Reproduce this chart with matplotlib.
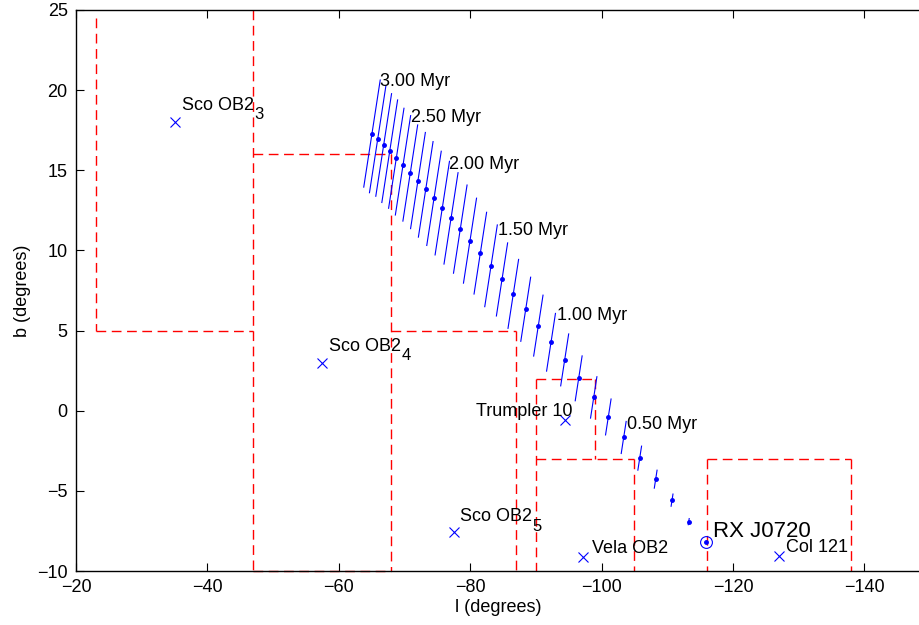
import numpy as np
import matplotlib.pyplot as plt

plt.rcParams['font.family'] = ['Liberation Sans', 'DejaVu Sans']
plt.rcParams['font.size'] = 13

# trajectory of RX J0720 back in time (0.1 Myr steps, 3.0 Myr -> 0)
traj_l = [-65.05, -65.92, -66.83, -67.75, -68.75, -69.77, -70.88, -72.05, -73.23, -74.49,
          -75.75, -77.08, -78.49, -79.97, -81.54, -83.17, -84.84, -86.56, -88.45, -90.37,
          -92.30, -94.38, -96.51, -98.80, -101.02, -103.36, -105.80, -108.23, -110.72, -113.26,
          -115.94]
traj_b = [17.29, 16.94, 16.58, 16.19, 15.75, 15.31, 14.83, 14.36, 13.81, 13.25,
          12.64, 12.00, 11.33, 10.61, 9.83, 9.04, 8.19, 7.29, 6.33, 5.31,
          4.27, 3.17, 2.02, 0.83, -0.39, -1.67, -2.96, -4.27, -5.58, -6.92,
          -8.21]
# half extent of the error bar in b
err_b = [3.34, 3.34, 3.2, 3.2, 3.12, 3.1, 3.0, 3.0, 2.98, 2.94,
         2.92, 2.85, 2.75, 2.65, 2.55, 2.55, 2.28, 2.15, 2.0, 1.9,
         1.8, 1.62, 1.4, 1.29, 1.12, 1.0, 0.75, 0.56, 0.38, 0.19,
         0.0]
err_tilt = 0.375  # change in l per unit b along the error bar

age_labels = ['3.00 Myr', '2.50 Myr', '2.00 Myr', '1.50 Myr', '1.00 Myr', '0.50 Myr']
age_l = [-66.32, -70.99, -76.82, -84.18, -93.16, -103.9]
age_b = [20.25, 18.02, 15.1, 10.98, 5.67, -1.15]

# associations
assoc_names = ['Sco OB2', 'Sco OB2', 'Sco OB2', 'Trumpler 10', 'Vela OB2', 'Col 121']
assoc_subs = ['3', '4', '5', '', '', '']
assoc_l = [-35.07, -57.44, -77.53, -94.43, -97.1, -127.0]
assoc_b = [18.0, 3.0, -7.56, -0.56, -9.11, -9.06]
label_l = [-36.13, -58.55, -78.45, -95.5, -98.5, -128.0]
label_b = [18.79, 3.75, -6.9, -0.3, -8.86, -8.79]
label_ha = ['left', 'left', 'left', 'right', 'left', 'left']

star_name = 'RX J0720'
star_l, star_b = -115.94, -8.21
star_label_l, star_label_b = -116.9, -7.9

# boundaries of the association regions (l0, b0, l1, b1)
bounds = [(-23, 24.5, -23, 5), (-23, 5, -47, 5),
          (-47, 25, -47, -10), (-47, 16, -68, 16), (-68, 16, -68, -10), (-47, -10, -68, -10),
          (-68, 5, -87, 5), (-87, 5, -87, -10),
          (-90, 2, -99, 2), (-99, 2, -99, -3), (-90, 2, -90, -10),
          (-90, -3, -105, -3), (-105, -3, -105, -10),
          (-116, -3, -138, -3), (-116, -3, -116, -10), (-138, -3, -138, -10)]

fig = plt.figure(figsize=(9.2, 6.25), dpi=100)
ax = fig.add_axes([0.0826, 0.0864, 0.9174, 0.8976])

for l0, b0, l1, b1 in bounds:
    ax.plot([l0, l1], [b0, b1], color='#ff0000', lw=1.0, dashes=(7, 4), clip_on=False)

for l, b, e in zip(traj_l, traj_b, err_b):
    ax.plot([l + err_tilt * e, l - err_tilt * e], [b - e, b + e], color='blue', lw=0.8)
ax.plot(traj_l, traj_b, ls='none', marker='.', color='blue', ms=5)

for txt, l, b in zip(age_labels, age_l, age_b):
    ax.text(l, b, txt, ha='left', va='baseline')

ax.plot(assoc_l, assoc_b, ls='none', marker='x', color='blue', ms=7, mew=0.8)
labels = []
for txt, l, b, ha in zip(assoc_names, label_l, label_b, label_ha):
    labels.append(ax.text(l, b, txt, ha=ha, va='baseline'))

ax.plot(star_l, star_b, ls='none', marker='o', mfc='none', mec='blue', ms=8.5, mew=0.8)
ax.text(star_label_l, star_label_b, star_name, ha='left', va='baseline', fontsize=16)

ax.set_xlim(-20, -148.46)
ax.set_ylim(-10, 25)
ax.set_xticks(np.arange(-20, -141, -20))
ax.set_yticks(np.arange(-10, 26, 5))
ax.tick_params(direction='in', top=True, right=False, length=6, width=0.8, pad=6)
ax.spines['right'].set_visible(False)
for s in ['left', 'bottom', 'top']:
    ax.spines[s].set_linewidth(1.0)
ax.set_xlabel('l (degrees)', labelpad=2)
ax.set_ylabel('b (degrees)', labelpad=4)

# MATLAB-style large subscripts placed after the label text
fig.canvas.draw()
renderer = fig.canvas.get_renderer()
for t, sub, l, b in zip(labels, assoc_subs, label_l, label_b):
    if sub:
        w = t.get_window_extent(renderer).width * 72 / fig.dpi
        ax.annotate(sub, xy=(l, b), xycoords='data', xytext=(w, -7),
                    textcoords='offset points', ha='left', va='baseline', fontsize=12)

plt.savefig('out.png')
